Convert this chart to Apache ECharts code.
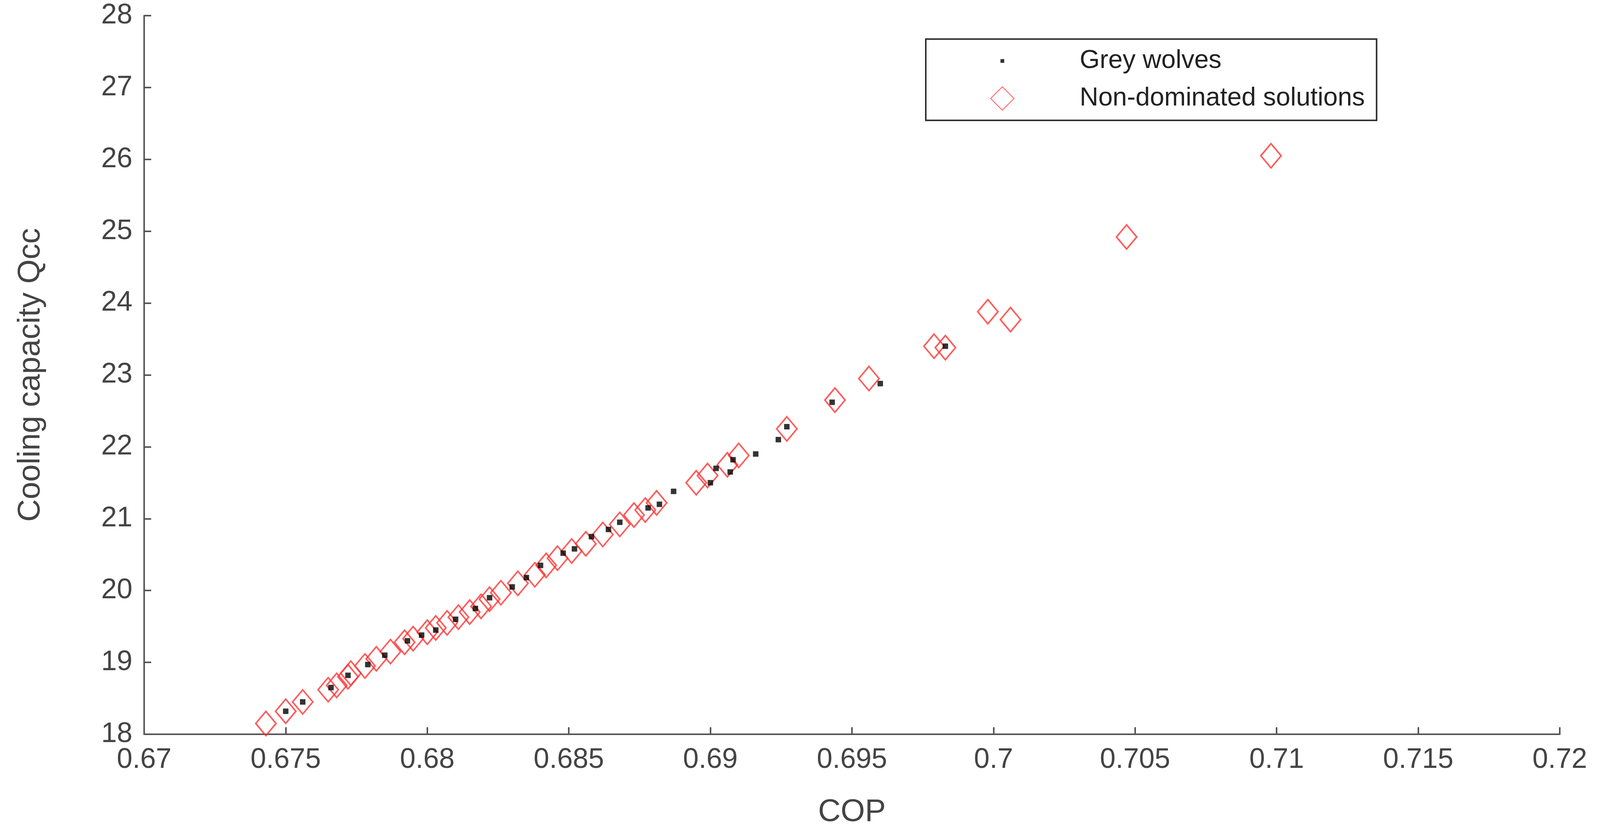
<!DOCTYPE html>
<html><head><meta charset="utf-8">
<script src="https://cdn.jsdelivr.net/npm/echarts@6/dist/echarts.min.js"></script>
<style>html,body{margin:0;background:#fff}#c{width:4117px;height:2124px}</style>
</head><body><div id="c"></div>
<script>
const xTicks = [0.67,0.675,0.68,0.685,0.69,0.695,0.7,0.705,0.71,0.715,0.72];
const yTicks = [18,19,20,21,22,23,24,25,26,27,28];
const nonDominated = [
[0.6743,18.15],[0.6750,18.32],[0.6756,18.45],[0.6765,18.62],[0.6768,18.68],[0.6772,18.8],[0.6773,18.85],
[0.6778,18.95],[0.6782,19.05],[0.6787,19.15],[0.6792,19.28],[0.6795,19.33],[0.6800,19.42],[0.6803,19.48],
[0.6807,19.55],[0.6811,19.63],[0.6815,19.7],[0.6819,19.78],[0.6822,19.88],[0.6826,19.97],[0.6832,20.1],
[0.6838,20.22],[0.6842,20.35],[0.6846,20.45],[0.6851,20.55],[0.6856,20.65],[0.6862,20.78],[0.6868,20.92],
[0.6873,21.05],[0.6877,21.12],[0.6881,21.22],[0.6895,21.5],[0.6899,21.6],[0.6906,21.75],[0.6910,21.88],
[0.6927,22.25],[0.6944,22.65],[0.6956,22.95],[0.6979,23.4],[0.6983,23.38],[0.6998,23.88],[0.7006,23.77],
[0.7047,24.92],[0.7098,26.05]];
const greyWolves = [
[0.6750,18.32],[0.6756,18.45],[0.6766,18.65],[0.6772,18.82],[0.6779,18.97],[0.6785,19.1],[0.6793,19.3],
[0.6798,19.38],[0.6803,19.45],[0.6810,19.6],[0.6817,19.75],[0.6822,19.9],[0.6830,20.05],[0.6835,20.18],
[0.6840,20.35],[0.6848,20.52],[0.6852,20.58],[0.6858,20.75],[0.6864,20.85],[0.6868,20.95],[0.6878,21.15],
[0.6882,21.2],[0.6887,21.38],[0.6900,21.5],[0.6902,21.7],[0.6907,21.65],[0.6908,21.82],[0.6916,21.9],
[0.6924,22.1],[0.6927,22.28],[0.6943,22.62],[0.6960,22.88],[0.6983,23.4]];
const chart = echarts.init(document.getElementById('c'));
const axisLine = {show:true,lineStyle:{color:'#555',width:4}};
const axisTick = {show:true,inside:true,length:18,lineStyle:{color:'#555',width:4}};
const labelStyle = {color:'#444',fontSize:72,fontFamily:'Liberation Sans',margin:30};
const nameStyle = {color:'#444',fontSize:80,fontFamily:'Liberation Sans'};
chart.setOption({
  animation:false,
  grid:{left:369,right:124,top:40,bottom:234},
  legend:{
    left:2370,top:100,orient:'vertical',
    borderColor:'#333',borderWidth:4,padding:[23,30,23,165],itemGap:30,
    itemWidth:60,itemHeight:60,
    textStyle:{fontSize:66,color:'#222',fontFamily:'Liberation Sans',padding:[0,0,0,163]},
    data:[
      {name:'Grey wolves',icon:'path://M0,0M100,100M42,42h16v16h-16z'},
      {name:'Non-dominated solutions',icon:'diamond'}
    ]
  },
  xAxis:{type:'value',min:0.67,max:0.72,interval:0.005,name:'COP',nameLocation:'middle',nameGap:160,
    axisLine,axisTick,splitLine:{show:false},nameTextStyle:nameStyle,
    axisLabel:Object.assign({},labelStyle,{formatter:v=>String(+v.toFixed(3))})},
  yAxis:{type:'value',min:18,max:28,interval:1,name:'Cooling capacity Qcc',nameLocation:'middle',nameGap:250,
    axisLine,axisTick,splitLine:{show:false},nameTextStyle:nameStyle,axisLabel:labelStyle},
  series:[
    {name:'Grey wolves',type:'scatter',data:greyWolves,symbol:'rect',symbolSize:14,itemStyle:{color:'#000'},z:3},
    {name:'Non-dominated solutions',type:'scatter',data:nonDominated,symbol:'diamond',symbolSize:[52,62],
     itemStyle:{color:'rgba(0,0,0,0)',borderColor:'#f33',borderWidth:4},z:2}
  ]
});
</script></body></html>
